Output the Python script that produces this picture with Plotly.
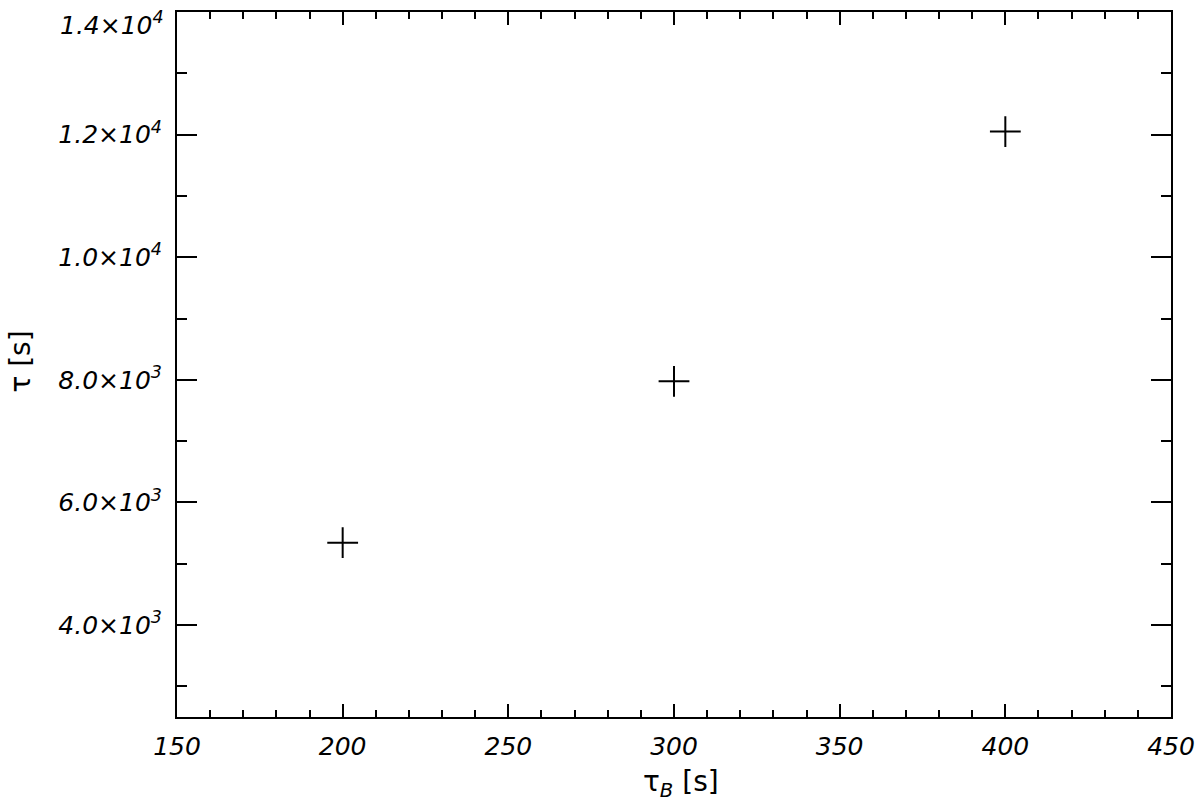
import plotly.graph_objects as go

tau_b = [200, 300, 400]
tau = [5344, 7975, 12050]

x_ticks = [150, 200, 250, 300, 350, 400, 450]
x_ticklabels = ["150", "200", "250", "300", "350", "400", "450"]
y_ticks = [4000, 6000, 8000, 10000, 12000, 14000]
y_ticklabels = ["4.0×10<sup>3</sup>", "6.0×10<sup>3</sup>", "8.0×10<sup>3</sup>",
                "1.0×10<sup>4</sup>", "1.2×10<sup>4</sup>", "1.4×10<sup>4</sup>"]
x_title = "τ<sub><i>B</i></sub> [s]"
y_title = "τ [s]"

tick_font = dict(family="DejaVu Sans", size=25, color="black", style="italic")
title_font = dict(family="DejaVu Sans", size=28, color="black")

# the top tick label is pulled down inside the page, as in the reference
axis_ticktext = y_ticklabels[:-1] + [""]

fig = go.Figure()
fig.add_trace(go.Scatter(
    x=tau_b, y=tau, mode="markers",
    marker=dict(symbol="cross-thin", size=22, line=dict(color="black", width=2)),
    showlegend=False,
))

fig.update_layout(
    width=1200, height=802,
    margin=dict(l=177, r=29, t=12, b=85),
    paper_bgcolor="white", plot_bgcolor="white",
    xaxis=dict(
        range=[150, 450], tickvals=x_ticks, ticktext=x_ticklabels,
        ticks="inside", ticklen=13, tickwidth=1.5, tickcolor="black",
        minor=dict(dtick=10, ticks="inside", ticklen=7, tickwidth=1.5, tickcolor="black", showgrid=False),
        showline=True, linewidth=2, linecolor="black", mirror="ticks",
        showgrid=False, zeroline=False, tickfont=tick_font, ticklabelstandoff=6,
        ticklabeloverflow="allow", automargin=False,
    ),
    yaxis=dict(
        range=[2500, 14000], tickvals=y_ticks, ticktext=axis_ticktext,
        ticks="inside", ticklen=20, tickwidth=1.5, tickcolor="black",
        minor=dict(tick0=0, dtick=1000, ticks="inside", ticklen=10, tickwidth=1.5, tickcolor="black", showgrid=False),
        showline=True, linewidth=2, linecolor="black", mirror="ticks",
        showgrid=False, zeroline=False, tickfont=tick_font, ticklabelstandoff=8,
        ticklabeloverflow="allow", automargin=False,
    ),
    annotations=[
        dict(text=y_ticklabels[-1], xref="paper", yref="y", x=0, y=y_ticks[-1],
             xanchor="right", yanchor="middle", xshift=-11, yshift=-11,
             showarrow=False, font=tick_font),
        dict(text=x_title, xref="paper", yref="paper", x=0.507, y=-0.094,
             xanchor="center", yanchor="middle", showarrow=False, font=title_font),
        dict(text=y_title, xref="paper", yref="paper", x=-0.157, y=0.504, textangle=-90,
             xanchor="center", yanchor="middle", showarrow=False, font=title_font),
    ],
)

fig.write_html("out.html", config={"displayModeBar": False},
               post_script="document.body.style.margin='0';document.body.style.overflow='hidden';")
